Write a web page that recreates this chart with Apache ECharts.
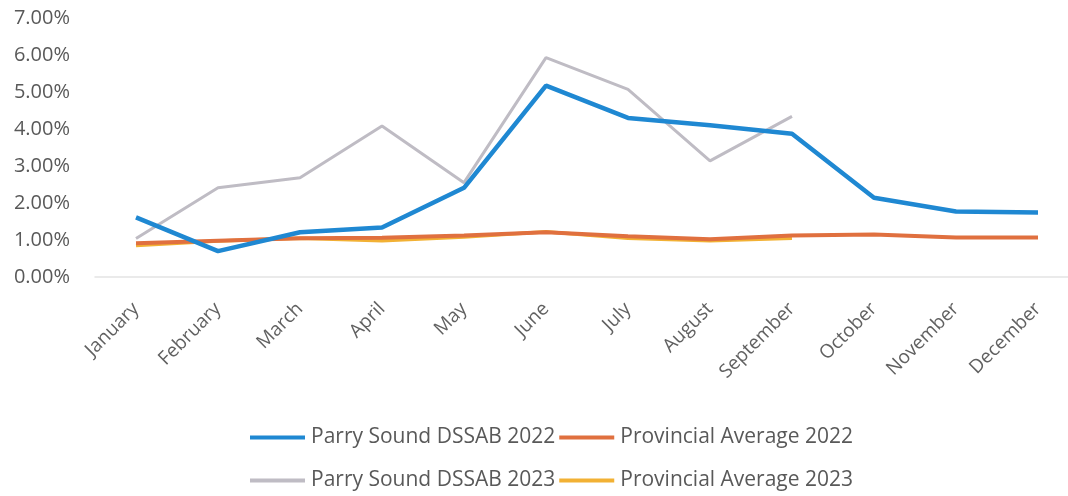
<!DOCTYPE html>
<html><head><meta charset="utf-8">
<script src="https://cdn.jsdelivr.net/npm/echarts@6/dist/echarts.min.js"></script>
<style>html,body{margin:0;padding:0;background:#fff}#c{width:1068px;height:496px}</style>
</head><body><div id="c"></div>
<script>
const months = ["January","February","March","April","May","June","July","August","September","October","November","December"];
const yTicks = [0,1,2,3,4,5,6,7];
const parry2022 = [1.61,0.70,1.21,1.34,2.41,5.17,4.30,4.10,3.87,2.14,1.77,1.74];
const prov2022 = [0.91,0.98,1.05,1.06,1.12,1.21,1.10,1.02,1.12,1.15,1.07,1.07];
const parry2023 = [1.04,2.41,2.68,4.08,2.55,5.93,5.07,3.14,4.34,null,null,null];
const prov2023 = [0.85,0.97,1.05,0.98,1.08,1.22,1.05,0.98,1.05,null,null,null];

const names = ["Parry Sound DSSAB 2022","Provincial Average 2022","Parry Sound DSSAB 2023","Provincial Average 2023"];
const font = "'Open Sans', 'Noto Sans', sans-serif";
const chart = echarts.init(document.getElementById('c'), null, {renderer:'canvas'});
const legendBase = {
  orient:'horizontal', left:245, itemWidth:55, itemHeight:4, itemGap:4, icon:'rect',
  textStyle:{color:'#595959', fontSize:21, fontFamily:font, padding:[0,0,0,1]}
};
function line(name, data, color, width){
  return {name, type:'line', data, symbol:'none', connectNulls:false,
    lineStyle:{color, width}, itemStyle:{color}};
}
chart.setOption({
  animation:false,
  grid:{left:95, top:18, bottom:219, right:-11, containLabel:false, outerBoundsMode:'none'},
  legend:[
    Object.assign({}, legendBase, {top:422, data:[names[0], names[1]]}),
    Object.assign({}, legendBase, {top:465, data:[names[2], names[3]]})
  ],
  xAxis:{type:'category', data:months, boundaryGap:true,
    axisLine:{lineStyle:{color:'#e3e3e3', width:1.5}}, axisTick:{show:false},
    axisLabel:{rotate:45, color:'#616161', fontSize:19, fontFamily:font, margin:29, interval:0}},
  yAxis:{type:'value', min:0, max:7, interval:1,
    axisLine:{show:false}, axisTick:{show:false}, splitLine:{show:false},
    axisLabel:{color:'#595959', fontSize:20, fontFamily:font, margin:25,
      formatter:v=>v.toFixed(2)+'%'}},
  series:[
    line(names[2], parry2023, '#bfbcc4', 3),
    line(names[3], prov2023, '#f2b134', 3.5),
    line(names[1], prov2022, '#e0703f', 4),
    line(names[0], parry2022, '#1f88d2', 4.5)
  ]
});
</script></body></html>
